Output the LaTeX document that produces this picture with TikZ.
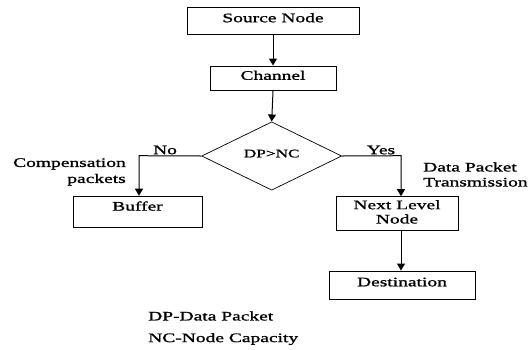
\documentclass[tikz,border=0pt]{standalone}
\usepackage{fontspec}
\setmainfont[FakeStretch=1.5, FakeBold=1.2]{Liberation Serif}
\usepackage{tikz}
\usetikzlibrary{shapes,shapes.geometric}
\usetikzlibrary{calc}
\usetikzlibrary{arrows.meta}
\usetikzlibrary{positioning}
\tikzset{flow/.style={-{Triangle[length=7pt,width=8pt]}, line width=1pt}}

\begin{document}
\begin{tikzpicture}[x=1pt, y=-1pt]
	% Default action for each node
	\tikzstyle{every node}=[font=\fontsize{13}{15}\selectfont, inner sep=0pt];
	\tikzstyle{box}=[draw, line width=0.9pt, shape=rectangle, align=center, text depth=6pt];
	\useasboundingbox (0,0) rectangle (532,349);

	\node[box, minimum width=172pt, minimum height=27pt] (source) at (273,20.7) {Source Node};
	\node[box, minimum width=126pt, minimum height=24.7pt] (channel) at (273,78.3) {Channel};
	\node[draw, line width=0.7pt, shape=diamond, minimum width=140pt, minimum height=56pt, font=\fontsize{11.5}{13}\selectfont] (check) at (271.7,156) {\raisebox{5pt}{DP>NC}};
	\node[box, minimum width=129pt, minimum height=31.7pt, text depth=12pt] (buffer) at (137.5,212) {Buffer};
	\node[box, minimum width=122pt, minimum height=33.3pt, text depth=3pt, font=\fontsize{13}{14.3}\selectfont] (nextlevel) at (397,213.3) {Next Level\\Node};
	\node[box, minimum width=146pt, minimum height=28pt] (destination) at (402,285) {Destination};

	\coordinate (nobend) at (139,155.7);
	\coordinate (yesbend) at (401,155.7);

	% Labels
	\node[anchor=center] (no) at (165,150) {No};
	\node[anchor=center] (yes) at (381,150) {Yes};
	\node[anchor=east, align=right, font=\fontsize{13}{16}\selectfont] (compensation) at (126,172) {Compensation\\packets};
	\node[anchor=west, align=left] (transmission) at (423,174.5) {Data Packet\\Transmission};
	\node[anchor=west] (legenddp) at (148,316) {DP-Data Packet};
	\node[anchor=west] (legendnc) at (148,339) {NC-Node Capacity};

	% Verticals
	\draw[flow] (source) -- (channel);
	\draw[flow] (channel.south -| source) -- (check.north);
	\draw[flow] (nextlevel.south -| yesbend) -- (yesbend |- destination.north);

	% Branches
	\draw[flow] (check.west) -- (nobend) -- (nobend |- buffer.north);
	\draw[flow] (check.east) -- (yesbend) -- (yesbend |- nextlevel.north);
\end{tikzpicture}
\end{document}
